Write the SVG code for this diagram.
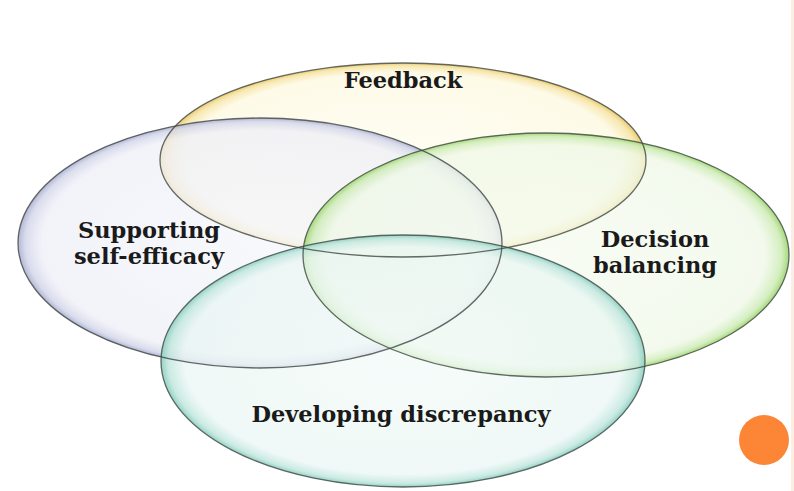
<svg xmlns="http://www.w3.org/2000/svg" xmlns:xlink="http://www.w3.org/1999/xlink" width="794" height="491" viewBox="0 0 794 491">
<defs>
<radialGradient id="gY" cx="50%" cy="50%" r="50%">
<stop offset="0" stop-color="#fffdf0" stop-opacity="0.8"/>
<stop offset="0.9" stop-color="#fdf9e2" stop-opacity="0.8"/>
<stop offset="0.97" stop-color="#f6e4a4" stop-opacity="0.85"/>
<stop offset="1" stop-color="#e9c968" stop-opacity="0.95"/>
</radialGradient>
<radialGradient id="gP" cx="50%" cy="50%" r="50%">
<stop offset="0" stop-color="#f5f6fb" stop-opacity="0.75"/>
<stop offset="0.9" stop-color="#eeeff7" stop-opacity="0.75"/>
<stop offset="0.97" stop-color="#d3d6e9" stop-opacity="0.85"/>
<stop offset="1" stop-color="#aeb2d2" stop-opacity="0.95"/>
</radialGradient>
<radialGradient id="gG" cx="50%" cy="50%" r="50%">
<stop offset="0" stop-color="#f5fbf0" stop-opacity="0.72"/>
<stop offset="0.9" stop-color="#eef8e6" stop-opacity="0.72"/>
<stop offset="0.97" stop-color="#cdebb5" stop-opacity="0.85"/>
<stop offset="1" stop-color="#9fd673" stop-opacity="0.95"/>
</radialGradient>
<radialGradient id="gT" cx="50%" cy="50%" r="50%">
<stop offset="0" stop-color="#f2faf8" stop-opacity="0.7"/>
<stop offset="0.9" stop-color="#e9f6f3" stop-opacity="0.7"/>
<stop offset="0.97" stop-color="#c0e6dd" stop-opacity="0.85"/>
<stop offset="1" stop-color="#8dd0c1" stop-opacity="0.95"/>
</radialGradient>
<ellipse id="eY" cx="403" cy="160" rx="243" ry="97"/>
<ellipse id="eP" cx="260" cy="243" rx="242" ry="125"/>
<ellipse id="eG" cx="546" cy="255" rx="243" ry="122"/>
<ellipse id="eT" cx="403" cy="361" rx="242" ry="126"/>
<style>
.outline{fill:none;stroke:#3e4642;stroke-opacity:0.8;stroke-width:1.3}
.lbl{font-family:"DejaVu Serif","Liberation Serif",serif;font-weight:bold;font-size:22.5px;fill:#1a1a1a;text-anchor:middle}
</style>
</defs>
<rect width="794" height="491" fill="#ffffff"/>
<line x1="792.5" y1="0" x2="792.5" y2="491" stroke="#fbeee2" stroke-width="3"/>
<g id="feedback">
<use xlink:href="#eY" href="#eY" fill="url(#gY)"/>
</g>
<g id="supporting-self-efficacy">
<use xlink:href="#eP" href="#eP" fill="url(#gP)"/>
</g>
<g id="decision-balancing">
<use xlink:href="#eG" href="#eG" fill="url(#gG)"/>
</g>
<g id="developing-discrepancy">
<use xlink:href="#eT" href="#eT" fill="url(#gT)"/>
</g>
<g id="outlines" class="outline">
<use xlink:href="#eY" href="#eY"/>
<use xlink:href="#eP" href="#eP"/>
<use xlink:href="#eG" href="#eG"/>
<use xlink:href="#eT" href="#eT"/>
</g>
<g id="labels">
<text class="lbl" x="403" y="88">Feedback</text>
<text class="lbl" x="149" y="238">Supporting</text>
<text class="lbl" x="149" y="264">self-efficacy</text>
<text class="lbl" x="655" y="247">Decision</text>
<text class="lbl" x="655" y="273">balancing</text>
<text class="lbl" x="401" y="422">Developing discrepancy</text>
</g>
<g id="bullet">
<circle cx="764" cy="440" r="25" fill="#fd8636"/>
</g>
</svg>
